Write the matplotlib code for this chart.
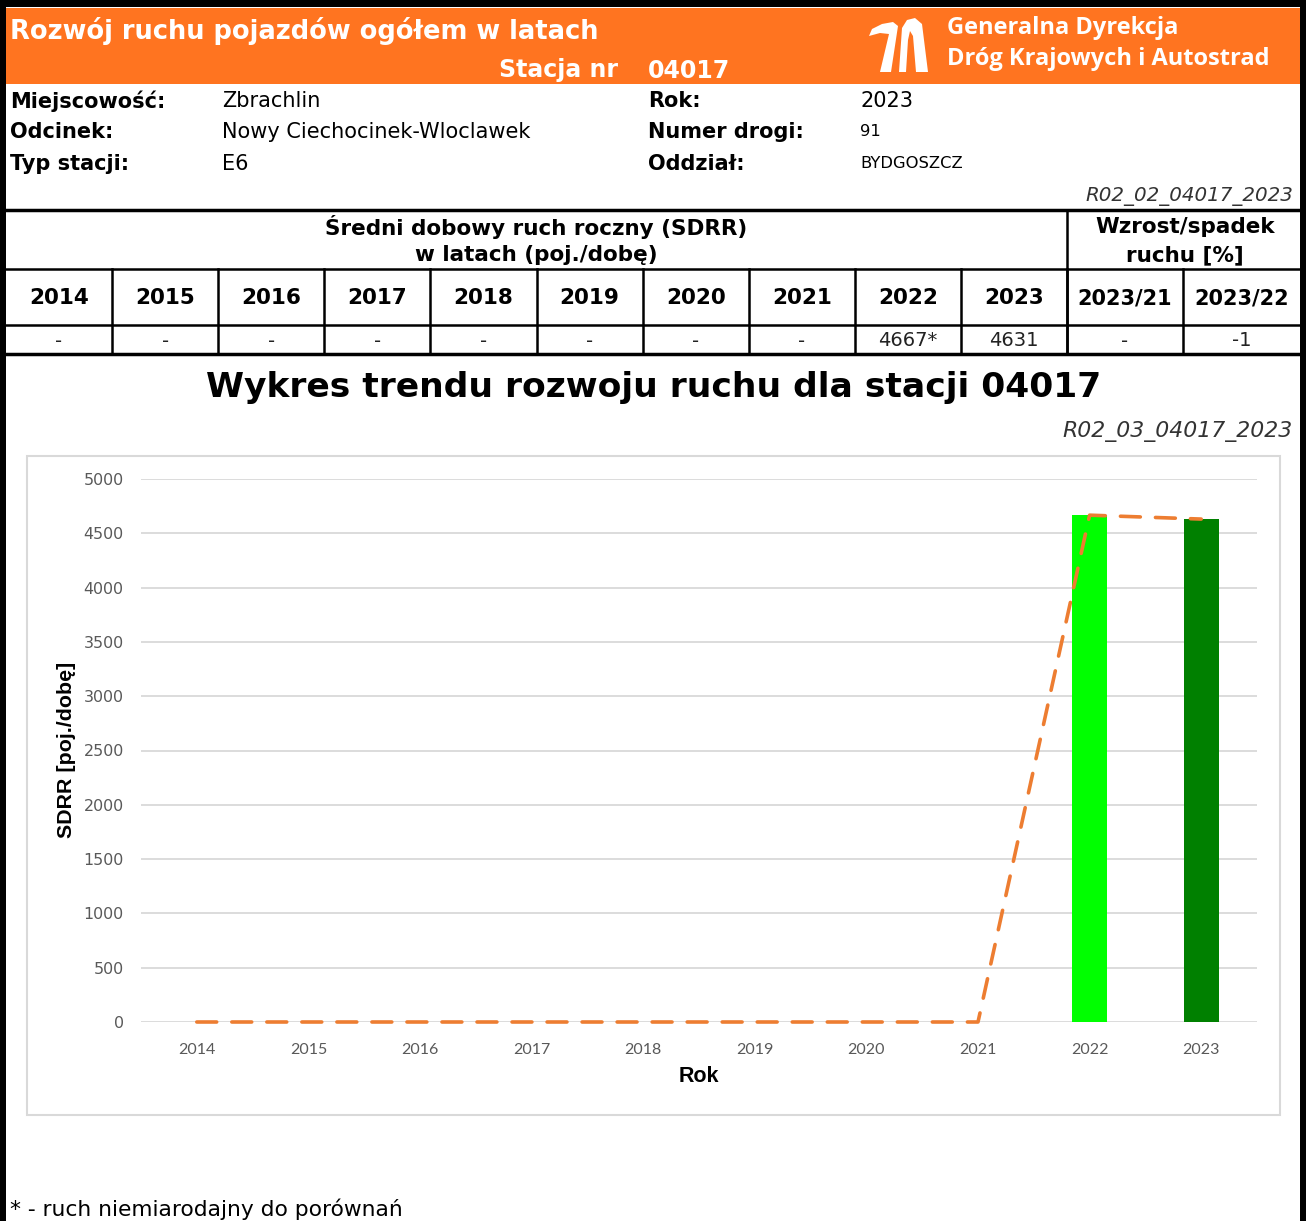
import matplotlib
matplotlib.use('Agg')
import matplotlib.pyplot as plt
from matplotlib.patches import Rectangle, Polygon
import numpy as np

# data
years = ['2014', '2015', '2016', '2017', '2018', '2019', '2020', '2021', '2022', '2023']
sdrr = [0, 0, 0, 0, 0, 0, 0, 0, 4667, 4631]
bar_colors = ['none'] * 8 + ['#00ff00', '#008000']
table_values = ['-', '-', '-', '-', '-', '-', '-', '-', '4667*', '4631']
growth_labels = ['2023/21', '2023/22']
growth_values = ['-', '-1']
yticks = [0, 500, 1000, 1500, 2000, 2500, 3000, 3500, 4000, 4500, 5000]

info_left = [('Miejscowość:', 'Zbrachlin'), ('Odcinek:', 'Nowy Ciechocinek-Wloclawek'), ('Typ stacji:', 'E6')]
info_right = [('Rok:', '2023'), ('Numer drogi:', '91'), ('Oddział:', 'BYDGOSZCZ')]

W, H = 1306, 1221
ORANGE = '#ff7420'

fig = plt.figure(figsize=(W / 100, H / 100), dpi=100)
bg = fig.add_axes([0, 0, 1, 1])
bg.set_xlim(0, W)
bg.set_ylim(H, 0)
bg.axis('off')

# outer frame + orange header
bg.add_patch(Rectangle((0, 0), W, 7, color='black', lw=0))
bg.add_patch(Rectangle((0, 0), 6, H, color='black', lw=0))
bg.add_patch(Rectangle((1300, 0), 6, H, color='black', lw=0))
bg.add_patch(Rectangle((6, 8), 1294, 76, color=ORANGE, lw=0))

bg.text(10, 31, 'Rozwój ruchu pojazdów ogółem w latach', color='white', fontsize=18.5,
        fontweight='bold', va='center', ha='left')
bg.text(618, 70, 'Stacja nr', color='white', fontsize=17, fontweight='bold', va='center', ha='right')
bg.text(648, 71, '04017', color='white', fontsize=17, fontweight='bold', va='center', ha='left')

# logo (rough shapes)
bg.add_patch(Polygon([(869, 36), (872, 29), (882, 24), (893, 22), (898, 26), (891, 72), (880, 72),
                      (889, 34), (880, 33)], closed=True, color='white', lw=0))
bg.add_patch(Polygon([(899, 72), (902, 28), (907, 20), (915, 18), (922, 24), (928, 72), (916, 72),
                      (913, 36), (910, 31), (908, 40), (906, 72)], closed=True, color='white', lw=0))
bg.text(947, 28, 'Generalna Dyrekcja', color='white', fontsize=17, fontweight='bold',
        family='Open Sans', va='center', ha='left')
bg.text(947, 59, 'Dróg Krajowych i Autostrad', color='white', fontsize=17, fontweight='bold',
        family='Open Sans', va='center', ha='left')

# info rows
rows_y = [101, 132, 164]
for (lab, val), y in zip(info_left, rows_y):
    bg.text(10, y, lab, fontsize=15, fontweight='bold', va='center')
    bg.text(222, y, val, fontsize=15, va='center')
for i, ((lab, val), y) in enumerate(zip(info_right, rows_y)):
    bg.text(648, y, lab, fontsize=15, fontweight='bold', va='center')
    bg.text(860, y, val, fontsize=15 if i == 0 else 11.8, va='center')

bg.text(1293, 196, 'R02_02_04017_2023', fontsize=14.3, style='italic', color='#333333', ha='right', va='center')

# table
col_x = [6 + 106.1 * i for i in range(11)] + [1183, 1300]
bg.plot([6, 1300], [210, 210], color='black', lw=2.5)
bg.plot([6, 1300], [354, 354], color='black', lw=2.5)
bg.plot([6, 1300], [269, 269], color='black', lw=1.8)
bg.plot([6, 1300], [325, 325], color='black', lw=1.8)
bg.plot([1067, 1067], [210, 354], color='black', lw=1.8)
for x in col_x[1:-1]:
    bg.plot([x, x], [269, 354], color='black', lw=1.8)

bg.text(536, 227, 'Średni dobowy ruch roczny (SDRR)', fontsize=15.5, fontweight='bold', ha='center', va='center')
bg.text(536, 255, 'w latach (poj./dobę)', fontsize=15.5, fontweight='bold', ha='center', va='center')
bg.text(1185, 227, 'Wzrost/spadek', fontsize=15.5, fontweight='bold', ha='center', va='center')
bg.text(1185, 255, 'ruchu [%]', fontsize=15.5, fontweight='bold', ha='center', va='center')

labels = years + growth_labels
values = table_values + growth_values
for i, (lab, val) in enumerate(zip(labels, values)):
    cx = (col_x[i] + col_x[i + 1]) / 2
    fs = 15.5 if i < 10 else 15
    bg.text(cx, 298, lab, fontsize=fs, fontweight='bold', ha='center', va='center')
    bg.text(cx, 341, val, fontsize=14, ha='center', va='center', color='#222222')

bg.text(654, 387, 'Wykres trendu rozwoju ruchu dla stacji 04017', fontsize=24.8, fontweight='bold',
        ha='center', va='center')
bg.text(1293, 432, 'R02_03_04017_2023', fontsize=15.8, style='italic', color='#333333', ha='right', va='center')

# chart box
bg.add_patch(Rectangle((27, 456), 1253, 659, fill=False, edgecolor='#d9d9d9', lw=1.5))

bg.text(10, 1209, '* - ruch niemiarodajny do porównań', fontsize=15.7, va='center')

# axis titles placed in pixel coords
bg.text(66, 750, 'SDRR [poj./dobę]', family='Liberation Sans', fontweight='bold', fontsize=15.4,
        rotation=90, ha='center', va='center')
bg.text(699, 1077, 'Rok', family='Liberation Sans', fontweight='bold', fontsize=15.5, ha='center', va='center')

# chart
ax = fig.add_axes([141 / W, (H - 1022) / H, (1257 - 141) / W, (1022 - 479) / H])
ax.patch.set_alpha(0)
x = np.arange(len(years))
ax.bar(x, sdrr, width=0.315, color=bar_colors, zorder=2)
ax.plot(x, sdrr, color='#ed7d31', lw=2.6, linestyle=(0, (5.5, 4.2)), dash_capstyle='round',
        zorder=3, clip_on=False)
ax.set_xlim(-0.5, len(years) - 0.5)
ax.set_ylim(0, 5000)
ax.set_yticks(yticks)
ax.set_xticks(x)
ax.set_xticklabels(years, family='Lato', fontsize=11.5, color='#595959')
ax.tick_params(axis='y', labelsize=11.4, labelcolor='#595959', length=0, pad=12.5)
ax.tick_params(axis='x', length=0, pad=15)
ax.grid(axis='y', color='#d9d9d9', lw=1.3, zorder=0)
ax.set_axisbelow(True)
for s in ax.spines.values():
    s.set_visible(False)

fig.savefig('out.png', dpi=100)
